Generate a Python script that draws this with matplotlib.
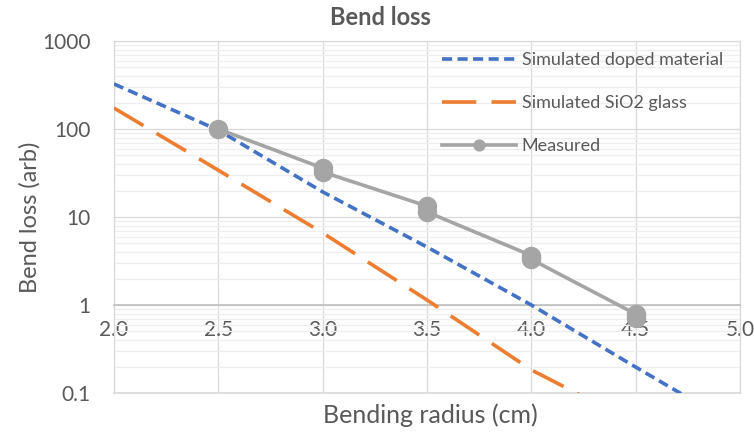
import matplotlib
matplotlib.use("Agg")
import matplotlib.pyplot as plt
from matplotlib.ticker import FixedLocator, NullFormatter, FixedFormatter

# ---- data ----
x_doped = [2.0, 2.5, 3.0, 3.5, 4.0, 4.5, 5.0]
y_doped = [325, 97, 19.3, 4.56, 1.0, 0.197, 0.04]

x_sio2 = [2.0, 2.5, 3.0, 3.5, 4.0, 4.5]
y_sio2 = [173, 34, 6.6, 1.14, 0.183, 0.045]

x_meas = [2.5, 3.0, 3.0, 3.5, 3.5, 4.0, 4.0, 4.5, 4.5]
y_meas = [100, 36, 32.5, 13.3, 11.4, 3.65, 3.3, 0.79, 0.71]

x_ticks = [2.0, 2.5, 3.0, 3.5, 4.0, 4.5, 5.0]
x_tick_labels = ["2.0", "2.5", "3.0", "3.5", "4.0", "4.5", "5.0"]
y_ticks = [0.1, 1, 10, 100, 1000]
y_tick_labels = ["0.1", "1", "10", "100", "1000"]

labels = ["Simulated doped material", "Simulated SiO2 glass", "Measured"]
title = "Bend loss"
xlabel = "Bending radius (cm)"
ylabel = "Bend loss (arb)"

# ---- style ----
TXT = "#595959"
plt.rcParams['font.family'] = ['Lato', 'DejaVu Sans']

fig = plt.figure(figsize=(7.54, 4.32), dpi=100)
L, R, T, B = 114, 740, 41, 393
ax = fig.add_axes([L / 754, 1 - B / 432, (R - L) / 754, (B - T) / 432])

ax.set_yscale('log')
ax.set_xlim(2.0, 5.0)
ax.set_ylim(0.1, 1000)

# gridlines
ax.yaxis.set_major_locator(FixedLocator(y_ticks))
ax.yaxis.set_major_formatter(FixedFormatter(y_tick_labels))
minor = [m * 10.0 ** e for e in range(-1, 3) for m in range(2, 10)]
ax.yaxis.set_minor_locator(FixedLocator(minor))
ax.yaxis.set_minor_formatter(NullFormatter())
ax.xaxis.set_major_locator(FixedLocator(x_ticks))
ax.xaxis.set_major_formatter(FixedFormatter(x_tick_labels))

ax.grid(True, which='major', axis='both', color='#D9D9D9', lw=0.9, zorder=0)
ax.grid(True, which='minor', axis='y', color='#EEEEEE', lw=0.9, zorder=0)
ax.set_axisbelow(True)

for s in ['left', 'right', 'top']:
    ax.spines[s].set_color('#D9D9D9')
    ax.spines[s].set_linewidth(0.9)
ax.spines['bottom'].set_position(('data', 1))
ax.spines['bottom'].set_color('#BFBFBF')
ax.spines['bottom'].set_linewidth(1.2)
ax.axhline(0.1, color='#D9D9D9', lw=1.2, zorder=0.5, clip_on=False)

ax.tick_params(axis='both', which='both', length=0, colors=TXT, labelsize=15)
ax.tick_params(axis='x', pad=11)
ax.tick_params(axis='y', pad=17)

# ---- series ----
ax.plot(x_doped, y_doped, color='#4472C4', lw=2.6, dashes=(2.8, 1.5),
        label=labels[0], zorder=3)
ax.plot(x_sio2, y_sio2, color='#ED7D31', lw=2.6, dashes=(9.5, 4.2),
        label=labels[1], zorder=3)
ax.plot(x_meas, y_meas, color='#A5A5A5', lw=2.6, marker='o', markersize=13,
        label=labels[2], zorder=4)

leg = ax.legend(loc='upper left', bbox_to_anchor=(0.5235, 0.969), frameon=False,
                fontsize=13, handlelength=4.1, handletextpad=0.33,
                labelspacing=1.5, borderpad=0, borderaxespad=0, markerscale=0.6)
for t in leg.get_texts():
    t.set_color(TXT)

ax.set_title(title, fontsize=17, fontweight='bold', color=TXT,
             x=0.425, y=1.068, va='center', pad=0)
ax.set_xlabel(xlabel, fontsize=18, color=TXT)
ax.xaxis.set_label_coords(0.505, -0.063)
ax.xaxis.label.set_va('center')
ax.set_ylabel(ylabel, fontsize=17, color=TXT)
ax.yaxis.set_label_coords(-0.134, 0.5)
ax.yaxis.label.set_va('center')

fig.savefig('out.png', dpi=100)
